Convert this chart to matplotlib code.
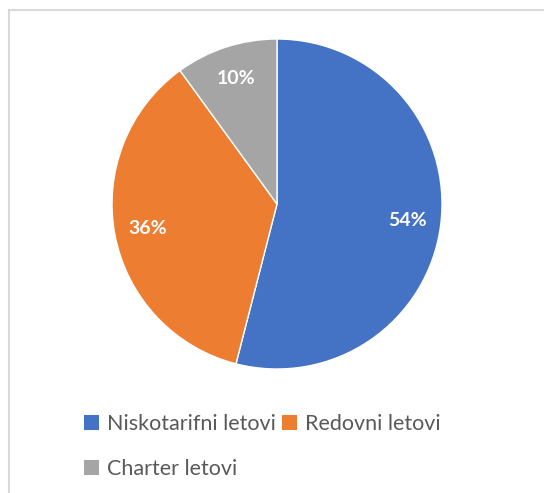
import matplotlib
matplotlib.use("Agg")
import matplotlib.pyplot as plt
from matplotlib.patches import Rectangle, Patch

categories = ["Niskotarifni letovi", "Redovni letovi", "Charter letovi"]
values = [54, 36, 10]
colors = ["#4472C4", "#ED7D31", "#A5A5A5"]

W, H = 544, 493
fig = plt.figure(figsize=(W / 100, H / 100), dpi=100)
fig.patch.set_facecolor("white")

# outer border
fig.patches.append(Rectangle((9 / W, -0.1), 1.2, (H - 10) / H + 0.1, transform=fig.transFigure,
                             fill=False, edgecolor="#D9D9D9", linewidth=1.5))

cx, cy, r = 277, 204, 165
ax = fig.add_axes([(cx - r) / W, (H - cy - r) / H, 2 * r / W, 2 * r / H])
wedges, texts, autotexts = ax.pie(values, colors=colors, startangle=90, counterclock=False,
                                  autopct=lambda p: f"{p:.0f}%", pctdistance=0.8,
                                  wedgeprops=dict(edgecolor="white", linewidth=1),
                                  textprops=dict(color="white", fontsize=14, fontweight="bold",
                                                 family="Lato"))
ax.set_aspect("equal")
ax.set_xlim(-1, 1)
ax.set_ylim(-1, 1)
ax.axis("off")

handles = [Patch(facecolor=c, edgecolor="none") for c in colors]
order = [0, 2, 1]
leg = fig.legend([handles[i] for i in order], [categories[i] for i in order],
                 loc="upper left", bbox_to_anchor=(84 / W, 1 - 414 / H), ncol=2,
                 frameon=False, handlelength=0.7, handleheight=0.7, handletextpad=0.35,
                 columnspacing=0.3, labelspacing=1.15, borderpad=0, borderaxespad=0,
                 prop=dict(family="Lato", size=15.5))
for t in leg.get_texts():
    t.set_color("#595959")

fig.savefig("out.png", dpi=100, facecolor="white")
